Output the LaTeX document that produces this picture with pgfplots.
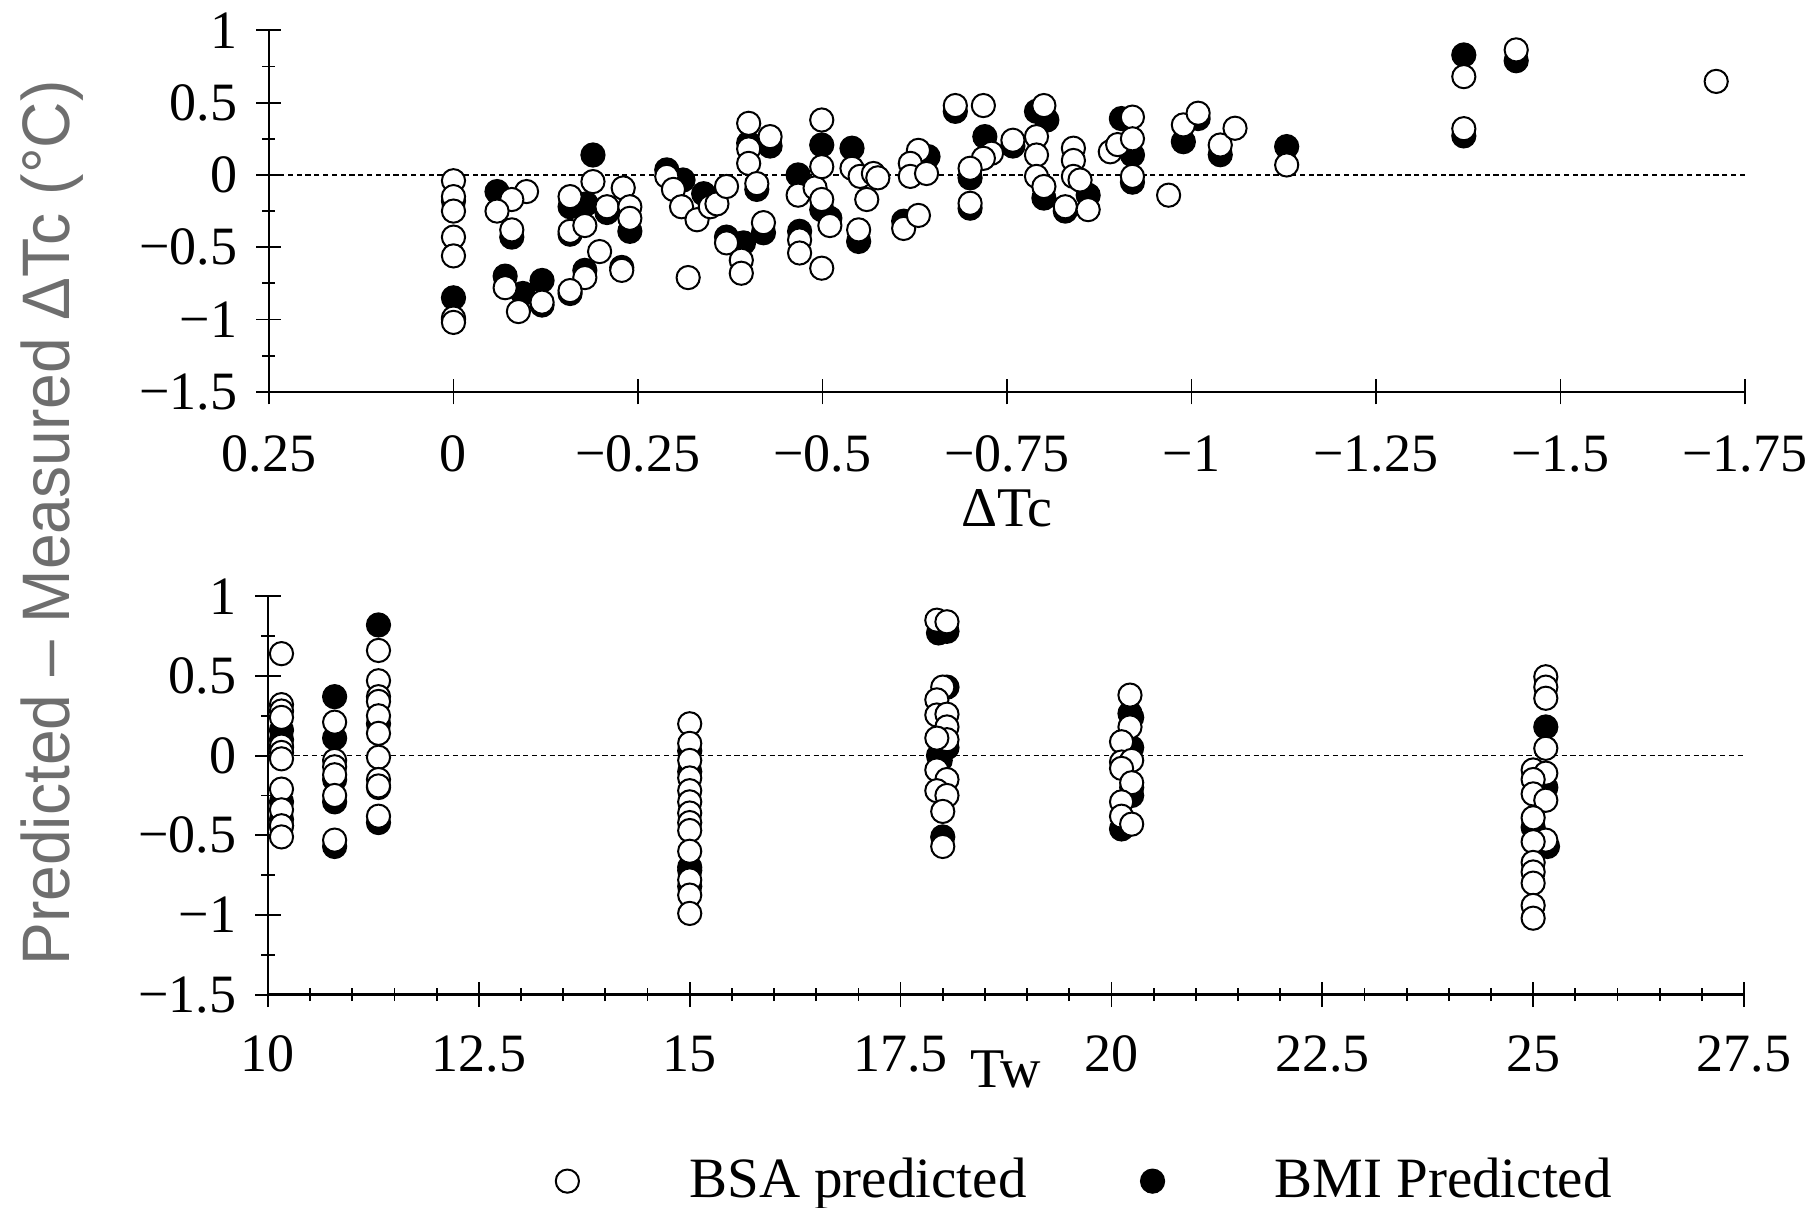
\documentclass[border=0pt]{standalone}
\usepackage{pgfplots}
\pgfplotsset{compat=1.18}
\usepackage{fontspec}
\setmainfont{Liberation Serif}
\newfontfamily\labelfont{Liberation Sans}[FakeStretch=0.955]
\definecolor{labelgray}{RGB}{110,110,110}

\pgfplotsset{
  panel/.style={scale only axis, width=369pt, clip=false,
    tick align=inside, axis x line=bottom, axis y line=left,
    axis line style={-, line width=0.6pt},
    every outer x axis line/.append style={-},
    every outer y axis line/.append style={-},
    major tick length=6.25pt, minor tick length=3.25pt,
    tick style={black, line width=0.45pt},
    ymin=-1.5, ymax=1, ytick={-1.5,-1,-0.5,0,0.5,1},
    yticklabels={−1.5,−1,−0.5,0,0.5,1}, minor y tick num=1,
    ticklabel style={font=\fontsize{13.5}{13.5}\selectfont, inner sep=0pt},
    yticklabel shift=4.6pt,
    label style={font=\fontsize{14}{14}\selectfont, inner sep=0pt}},
  bsa/.style={only marks, mark=*, mark size=2.9pt,
    mark options={fill=white, draw=black, line width=0.5pt}},
  bmi/.style={only marks, mark=*, mark size=2.9pt,
    mark options={fill=black, draw=black, line width=0.5pt}},
  zero/.style={black, line width=0.35pt, dash pattern=on 1.3pt off 0.9pt, forget plot},
}

\begin{document}
\begin{tikzpicture}
% top panel: error against delta Tc
\begin{axis}[panel, at={(67.25pt,204.05pt)}, anchor=south west, height=90.35pt,
  xmin=-1.75, xmax=0.25, x dir=reverse,
  xtick={-1.75,-1.5,-1.25,-1,-0.75,-0.5,-0.25,0,0.25},
  xticklabels={−1.75,−1.5,−1.25,−1,−0.75,−0.5,−0.25,0,0.25},
  xticklabel shift=7.75pt,
  xlabel={ΔTc}, xlabel style={at={(axis description cs:0.5,0)}, anchor=north, yshift=-24.25pt},
]
\addplot[zero] coordinates {(-1.75,0) (0.25,0)};
\addplot[bmi] coordinates {
(0,-0.85)(0,-0.18)(0,-1.0)
(-0.059,-0.115)(-0.079,-0.43)(-0.07,-0.70)(-0.094,-0.82)(-0.12,-0.73)(-0.12,-0.9)
(-0.189,0.138)(-0.158,-0.22)(-0.18,-0.2)(-0.208,-0.26)(-0.239,-0.39)(-0.158,-0.41)
(-0.178,-0.66)(-0.158,-0.82)(-0.228,-0.64)
(-0.289,0.035)(-0.311,-0.035)(-0.339,-0.13)(-0.37,-0.43)
(-0.4,0.22)(-0.429,0.2)(-0.411,-0.1)(-0.393,-0.47)(-0.42,-0.4)
(-0.467,0.0)(-0.499,0.207)(-0.499,-0.24)(-0.51,-0.3)(-0.469,-0.39)
(-0.54,0.185)(-0.549,-0.46)(-0.643,0.127)(-0.61,-0.32)
(-0.68,0.44)(-0.72,0.265)(-0.7,-0.02)(-0.7,-0.23)(-0.758,0.2)
(-0.79,0.44)(-0.804,0.38)(-0.8,-0.16)(-0.829,-0.25)(-0.86,-0.14)
(-0.905,0.39)(-0.92,0.138)(-0.92,-0.05)
(-0.989,0.23)(-1.009,0.39)(-1.039,0.14)(-1.129,0.196)
(-1.369,0.83)(-1.369,0.27)(-1.44,0.79)
};
\addplot[bsa] coordinates {
(0,-0.04)(0,-0.15)(0,-0.25)(0,-0.43)(0,-0.56)(0,-0.99)(0,-1.02)
(-0.099,-0.115)(-0.079,-0.17)(-0.059,-0.25)(-0.079,-0.38)(-0.07,-0.78)(-0.088,-0.945)(-0.12,-0.88)
(-0.189,-0.046)(-0.158,-0.15)(-0.208,-0.22)(-0.23,-0.09)(-0.239,-0.22)(-0.239,-0.3)
(-0.158,-0.39)(-0.178,-0.35)(-0.198,-0.53)(-0.178,-0.71)(-0.158,-0.80)(-0.228,-0.66)
(-0.289,-0.01)(-0.298,-0.10)(-0.309,-0.22)(-0.33,-0.31)(-0.348,-0.22)(-0.357,-0.2)
(-0.37,-0.08)(-0.318,-0.71)(-0.37,-0.47)
(-0.4,0.357)(-0.4,0.18)(-0.4,0.08)(-0.429,0.265)(-0.411,-0.06)(-0.39,-0.59)(-0.39,-0.68)(-0.42,-0.33)
(-0.467,-0.14)(-0.49,-0.09)(-0.499,0.38)(-0.499,0.057)(-0.499,-0.17)(-0.51,-0.35)
(-0.469,-0.45)(-0.469,-0.54)(-0.499,-0.645)
(-0.54,0.046)(-0.551,-0.01)(-0.569,0.01)(-0.575,-0.02)(-0.56,-0.17)(-0.549,-0.38)
(-0.63,0.17)(-0.619,0.08)(-0.619,-0.01)(-0.641,0.01)(-0.61,-0.37)(-0.63,-0.28)
(-0.68,0.48)(-0.718,0.48)(-0.729,0.15)(-0.718,0.115)(-0.7,0.046)(-0.70,-0.196)(-0.758,0.24)
(-0.8,0.48)(-0.79,0.265)(-0.79,0.138)(-0.79,-0.01)(-0.8,-0.08)(-0.84,0.185)(-0.84,0.1)
(-0.84,-0.01)(-0.849,-0.035)(-0.829,-0.22)(-0.86,-0.24)
(-0.89,0.16)(-0.9,0.21)(-0.92,0.40)(-0.92,0.25)(-0.92,-0.01)
(-0.969,-0.14)(-0.989,0.346)(-1.009,0.427)(-1.039,0.207)(-1.059,0.323)(-1.129,0.069)
(-1.369,0.68)(-1.369,0.32)(-1.44,0.865)(-1.711,0.647)
};
\end{axis}

% bottom panel: error against Tw
\begin{axis}[panel, at={(67pt,53.325pt)}, anchor=south west, height=99.6pt,
  xmin=10, xmax=27.5,
  xtick={10,12.5,15,17.5,20,22.5,25,27.5},
  xticklabels={10,12.5,15,17.5,20,22.5,25,27.5}, minor x tick num=4,
  xticklabel shift=7pt,
  xlabel={Tw}, xlabel style={at={(axis description cs:0.5,0)}, anchor=north, yshift=-13.75pt},
  legend columns=2,
  legend style={draw=none, fill=none, at={(0.1863,-0.468)}, anchor=west,
    font=\fontsize{14.25}{14.25}\selectfont, nodes={inner sep=0pt},
    /tikz/every odd column/.append style={column sep=27.6pt},
    /tikz/every even column/.append style={column sep=28.6pt}},
  legend image code/.code={\draw[#1] plot coordinates {(0pt,0pt)};},
]
\addlegendimage{bsa}
\addlegendentry{BSA predicted}
\addlegendimage{bmi}
\addlegendentry{BMI Predicted}
\addplot[zero] coordinates {(10,0) (27.5,0)};
\addplot[bmi, forget plot] coordinates {
(10.16,0.16)(10.16,0.1)(10.16,0.05)(10.16,-0.29)(10.16,-0.4)(10.16,-0.44)
(10.79,0.37)(10.79,0.11)(10.79,-0.15)(10.79,-0.29)(10.79,-0.57)
(11.31,0.82)(11.31,0.2)(11.31,-0.2)(11.31,-0.42)
(15,0.03)(15,-0.1)(15,-0.7)(15,-0.72)(15,-0.82)
(17.95,0.77)(18.05,0.78)(18.05,0.43)(18,0.035)(17.97,-0.03)(18.05,0.05)(17.95,0)(18,-0.51)
(20.22,0.265)(20.24,0.24)(20.24,0.05)(20.24,-0.2)(20.24,-0.25)(20.12,-0.46)
(25.15,0.18)(25.15,-0.2)(25,-0.45)(25.17,-0.57)
};
\addplot[bsa, forget plot] coordinates {
(10.16,0.64)(10.16,0.32)(10.16,0.28)(10.16,0.24)(10.16,0.06)(10.16,0.02)(10.16,-0.02)
(10.16,-0.21)(10.16,-0.34)(10.16,-0.44)(10.16,-0.51)
(10.79,0.21)(10.79,-0.03)(10.79,-0.07)(10.79,-0.12)(10.79,-0.25)(10.79,-0.53)
(11.31,0.66)(11.31,0.47)(11.31,0.37)(11.31,0.34)(11.31,0.25)(11.31,0.14)(11.31,-0.01)
(11.31,-0.15)(11.31,-0.19)(11.31,-0.38)
(15,0.2)(15,0.077)(15,-0.03)(15,-0.14)(15,-0.22)(15,-0.29)(15,-0.36)(15,-0.42)(15,-0.47)
(15,-0.6)(15,-0.78)(15,-0.875)(15,-0.99)
(17.93,0.85)(18.05,0.84)(18,0.43)(17.93,0.35)(17.93,0.255)(18.05,0.26)(18.05,0.18)(18.05,0.1)
(17.93,0.11)(17.93,-0.09)(18.05,-0.15)(17.93,-0.22)(18.05,-0.25)(18,-0.35)(18,-0.57)
(20.22,0.38)(20.22,0.18)(20.12,0.087)(20.12,-0.04)(20.24,-0.03)(20.12,-0.08)(20.24,-0.17)
(20.12,-0.29)(20.12,-0.38)(20.24,-0.43)
(25.15,0.495)(25.15,0.43)(25.15,0.36)(25.15,0.046)(25,-0.09)(25.15,-0.11)(25,-0.15)(25,-0.24)
(25.15,-0.28)(25,-0.39)(25.15,-0.53)(25,-0.54)(25,-0.67)(25,-0.73)(25,-0.8)(25,-0.94)(25,-1.02)
};
\end{axis}

\node[rotate=90, anchor=base, text=labelgray, inner sep=0pt,
  font=\labelfont\fontsize{16.8}{16.8}\selectfont] at (17.25pt,171.25pt)
  {Predicted – Measured ΔTc (°C)};
\pgfresetboundingbox
\path[use as bounding box] (0pt,0pt) rectangle (452.75pt,302pt);
\end{tikzpicture}
\end{document}
